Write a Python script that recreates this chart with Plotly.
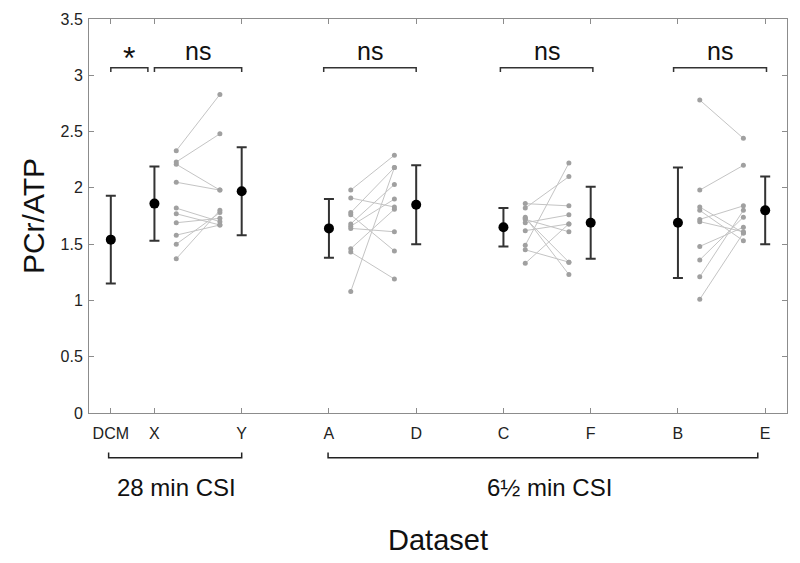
import plotly.graph_objects as go

# ---- data ----
tick_labels = ["DCM", "X", "Y", "A", "D", "C", "F", "B", "E"]
tick_pos = [0, 1, 3, 5, 7, 9, 11, 13, 15]

mean_vals = [1.54, 1.86, 1.97, 1.64, 1.85, 1.65, 1.69, 1.69, 1.80]
sd_vals = [0.39, 0.33, 0.39, 0.26, 0.35, 0.17, 0.32, 0.49, 0.30]

x_first = [2.33, 2.23, 2.21, 2.05, 1.82, 1.77, 1.69, 1.58, 1.50, 1.37]
y_second = [2.83, 2.48, 1.98, 1.98, 1.70, 1.67, 1.73, 1.67, 1.78, 1.80]
a_first = [1.98, 1.91, 1.78, 1.76, 1.68, 1.66, 1.64, 1.46, 1.43, 1.08]
d_second = [2.29, 1.83, 2.18, 1.44, 2.03, 1.90, 1.61, 1.81, 1.19, 2.18]
c_first = [1.86, 1.82, 1.74, 1.73, 1.72, 1.69, 1.62, 1.49, 1.45, 1.33]
f_second = [1.84, 2.10, 1.23, 1.34, 1.61, 1.76, 1.68, 2.22, 1.34, 1.68]
b_first = [2.78, 1.98, 1.83, 1.80, 1.72, 1.70, 1.48, 1.36, 1.21, 1.01]
e_second = [2.44, 2.20, 1.60, 1.53, 1.84, 1.61, 1.65, 1.74, 1.80, 1.60]

pairs = [  # (pos of first dataset, pos of second dataset, values first, values second)
    (1, 3, x_first, y_second),
    (5, 7, a_first, d_second),
    (9, 11, c_first, f_second),
    (13, 15, b_first, e_second),
]
sig_labels = ["*", "ns", "ns", "ns", "ns"]
sig_spans = [(0, 0.85), (1, 3), (4.88, 7.0), (8.93, 11.05), (12.9, 15.03)]
group_labels = ["28 min CSI", "6½ min CSI"]
group_spans = [(-0.05, 3.0), (4.98, 14.83)]
group_label_x = [1.5, 10.05]

FONT = "Liberation Sans, Arial, Helvetica, sans-serif"

fig = go.Figure()

# paired individual lines
px, py = [], []
for p1, p2, v1, v2 in pairs:
    for a, b in zip(v1, v2):
        px += [p1 + 0.5, p2 - 0.5, None]
        py += [a, b, None]
fig.add_trace(go.Scatter(
    x=px, y=py, mode="lines+markers",
    line=dict(color="#c4c4c4", width=1),
    marker=dict(color="#a0a0a0", size=5),
    hoverinfo="skip", showlegend=False))

# means with SD
fig.add_trace(go.Scatter(
    x=tick_pos, y=mean_vals, mode="markers",
    marker=dict(color="black", size=10),
    error_y=dict(type="data", array=sd_vals, color="#333333", thickness=2, width=5),
    showlegend=False))

shapes = []
annotations = []
# significance brackets at top
by, bt = 3.067, 3.03
for (x0, x1), lab in zip(sig_spans, sig_labels):
    shapes.append(dict(type="path", xref="x", yref="y",
                       path=f"M {x0},{bt} L {x0},{by} L {x1},{by} L {x1},{bt}",
                       line=dict(color="#333333", width=1.5)))
    if lab == "ns":
        annotations.append(dict(x=(x0 + x1) / 2, y=3.075, xref="x", yref="y", text=lab,
                                showarrow=False, yanchor="bottom",
                                font=dict(family=FONT, size=25, color="#111111")))
    else:
        annotations.append(dict(x=(x0 + x1) / 2, y=2.98, xref="x", yref="y", text=lab,
                                showarrow=False, yanchor="bottom",
                                font=dict(family=FONT, size=32, color="#111111")))

# group brackets below axis
gy, gt = -0.1135, -0.1005
for (x0, x1), lab, lx in zip(group_spans, group_labels, group_label_x):
    shapes.append(dict(type="path", xref="x", yref="paper",
                       path=f"M {x0},{gt} L {x0},{gy} L {x1},{gy} L {x1},{gt}",
                       line=dict(color="#222222", width=1.5)))
    annotations.append(dict(x=lx, y=-0.19, xref="x", yref="paper",
                            text=lab, showarrow=False, yanchor="middle",
                            font=dict(family=FONT, size=24, color="#111111")))

annotations.append(dict(x=0.5, y=-0.322, xref="paper", yref="paper", text="Dataset",
                        showarrow=False, yanchor="middle", xanchor="center",
                        font=dict(family=FONT, size=29, color="#111111")))

fig.update_layout(
    width=792, height=555,
    margin=dict(l=81, r=13, t=11, b=150),
    paper_bgcolor="white", plot_bgcolor="white",
    font=dict(family=FONT),
    shapes=shapes, annotations=annotations,
    showlegend=False,
)
fig.update_xaxes(
    range=[-0.5, 15.5], tickmode="array", tickvals=tick_pos, ticktext=tick_labels,
    showgrid=False, zeroline=False, showline=True, linecolor="#8c8c8c", linewidth=1,
    mirror="ticks", ticks="inside", ticklen=5, tickcolor="#8c8c8c",
    ticklabelstandoff=6, automargin=False,
    tickfont=dict(family=FONT, size=16, color="#222222"),
)
fig.update_yaxes(
    range=[0, 3.5], tickvals=[0, 0.5, 1, 1.5, 2, 2.5, 3, 3.5],
    ticktext=["0", "0.5", "1", "1.5", "2", "2.5", "3", "3.5"],
    showgrid=False, zeroline=False, showline=True, linecolor="#8c8c8c", linewidth=1,
    mirror="ticks", ticks="inside", ticklen=5, tickcolor="#8c8c8c",
    ticklabelstandoff=2, automargin=False,
    tickfont=dict(family=FONT, size=16, color="#222222"),
    title=dict(text="PCr/ATP", font=dict(family=FONT, size=30, color="#111111"), standoff=7),
)

fig.write_html("out.html")
